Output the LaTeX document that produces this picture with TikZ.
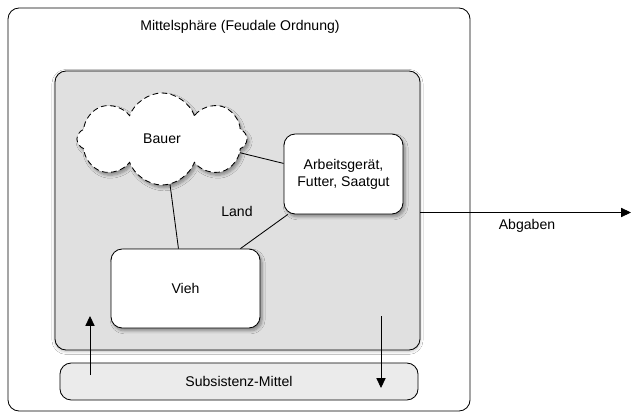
\documentclass[tikz,border=0pt]{standalone}
\usepackage{fontspec}
\setmainfont{Liberation Sans}
\usepackage{xcolor}
\usetikzlibrary{shapes.symbols, shadows.blur, arrows.meta}

\begin{document}
\begin{tikzpicture}[x=0.025cm, y=-0.025cm, font=\fontsize{10}{12}\selectfont,
    frame/.style={draw, line width=0.6pt, rounded corners=8pt},
    whitebox/.style={frame, fill=white, align=center, inner sep=0pt,
        blur shadow={shadow blur steps=6, shadow xshift=1.5pt, shadow yshift=-2pt, shadow opacity=40}},
    link/.style={line width=0.6pt},
    flow/.style={line width=0.6pt, -{Triangle[length=7pt, width=6.5pt]}}]
    \useasboundingbox (0,0) rectangle (631,413);

    % Outer sphere
    \node[frame, fill=white, minimum width=11.55cm, minimum height=10.075cm] (sphere) at (239,209.5) {};
    \node (title) at (240,27) {Mittelsphäre (Feudale Ordnung)};

    % Land
    \node[frame, fill=black!12, minimum width=9.125cm, minimum height=6.975cm,
        blur shadow={shadow blur steps=6, shadow xshift=0pt, shadow yshift=-1pt, shadow opacity=25}] (land) at (237.5,210.5) {};
    \node (landlabel) at (237,211) {Land};

    % Bauer, Geraet, Vieh
    \node[cloud, draw, dash pattern=on 4pt off 2.5pt, line width=0.6pt, fill=white, cloud puffs=8, cloud puff arc=140,
        minimum width=4.25cm, minimum height=2.3cm, inner sep=0pt,
        blur shadow={shadow blur steps=6, shadow xshift=1.5pt, shadow yshift=-2pt, shadow opacity=40}] (bauer) at (162,139) {Bauer};
    \node[whitebox, minimum width=2.975cm, minimum height=2cm] (geraet) at (343.5,174) {Arbeitsgerät,\\Futter, Saatgut};
    \node[whitebox, minimum width=3.725cm, minimum height=1.975cm] (vieh) at (185.5,288.5) {Vieh};

    % Subsistenz
    \node[frame, fill=black!8, minimum width=8.95cm, minimum height=0.925cm] (subsist) at (239,381.5) {Subsistenz-Mittel};

    % Connections
    \draw[link] (bauer.-10) -- (geraet.170);
    \draw[link] (bauer.-80) -- (vieh.100);
    \draw[link] (geraet.216) -- (vieh.36);

    \coordinate (upstart) at (90,375);
    \coordinate (upend) at (90,316);
    \coordinate (downstart) at (381,316);
    \coordinate (downend) at (381,388);
    \coordinate (abgend) at (631,212.5);
    \draw[flow] (upstart) -- (upend);
    \draw[flow] (downstart) -- (downend);
    \draw[flow] (land.east |- abgend) -- (abgend);
    \node (abgaben) at (527,226) {Abgaben};

\end{tikzpicture}
\end{document}
